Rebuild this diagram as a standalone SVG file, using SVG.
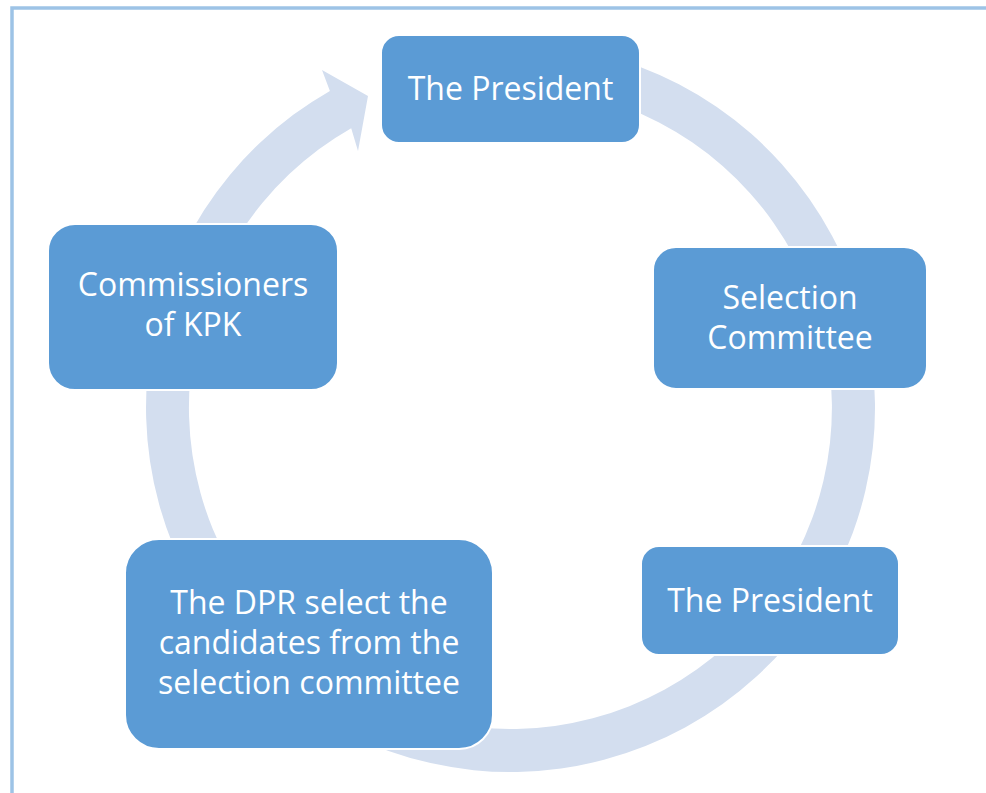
<svg xmlns="http://www.w3.org/2000/svg" width="986" height="793" viewBox="0 0 986 793">
  <style>
    .node rect { fill: #5B9BD5; stroke: #FFFFFF; stroke-width: 2; }
    .node text { fill: #FFFFFF; font-family: "Open Sans", "Liberation Sans", sans-serif; font-size: 32px; text-anchor: middle; }
    .ring { fill: #D3DEEF; }
  </style>
  <rect x="0" y="0" width="986" height="793" fill="#FFFFFF"/>
  <!-- page frame -->
  <path d="M12 793 V8 H986" fill="none" stroke="#9DC3E6" stroke-width="3.5"/>

  <!-- cycle ring with arrowhead -->
  <g id="connectors">
    <path class="ring" d="M510.5 43 A364.5 364.5 0 1 1 329.9 90.9 L322 70 L368 96 L358 151 L351.2 128.2 A321.5 321.5 0 1 0 510.5 86 Z"/>
  </g>

  <g id="node-president-top" class="node">
    <rect x="381" y="35" width="259" height="108" rx="18"/>
    <text x="510.5" y="99.5">The President</text>
  </g>

  <g id="node-selection-committee" class="node">
    <rect x="653" y="247" width="274" height="142" rx="23"/>
    <text x="790" y="308.5">Selection</text>
    <text x="790" y="348.5">Committee</text>
  </g>

  <g id="node-president-bottom" class="node">
    <rect x="641" y="546" width="258" height="109" rx="18"/>
    <text x="770" y="611.5">The President</text>
  </g>

  <g id="node-dpr" class="node">
    <rect x="125" y="539" width="368" height="210" rx="34"/>
    <text x="309" y="613.5">The DPR select the</text>
    <text x="309" y="653.5">candidates from the</text>
    <text x="309" y="693.5">selection committee</text>
  </g>

  <g id="node-commissioners" class="node">
    <rect x="48" y="224" width="290" height="166" rx="27"/>
    <text x="193" y="296">Commissioners</text>
    <text x="193" y="335.5">of KPK</text>
  </g>
</svg>
